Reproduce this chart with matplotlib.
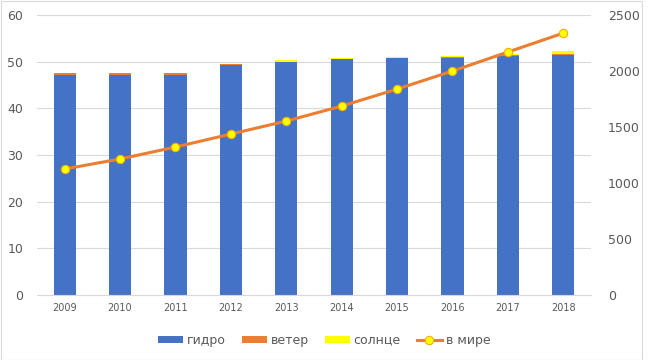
import numpy as np
import matplotlib.pyplot as plt
from matplotlib.patches import Rectangle

years = ['2009', '2010', '2011', '2012', '2013', '2014', '2015', '2016', '2017', '2018']
hydro = [47.2, 47.2, 47.2, 49.3, 49.9, 50.5, 50.7, 50.9, 51.3, 51.5]
wind = [0.3, 0.3, 0.3, 0.2, 0.1, 0.1, 0.1, 0.1, 0.1, 0.1]
solar = [0.0, 0.0, 0.0, 0.0, 0.3, 0.3, 0.3, 0.3, 0.3, 0.7]
world = [1125, 1214, 1321, 1437, 1553, 1687, 1839, 2000, 2170, 2339]

fig = plt.figure(figsize=(6.48, 3.6), dpi=100)
ax = fig.add_axes([0.057, 0.181, 0.855, 0.777])
x = np.arange(len(years))
w = 0.4
hydro_a = np.array(hydro)
wind_a = np.array(wind)
ax.bar(x, hydro, w, color='#4472C4', label='гидро', zorder=2)
ax.bar(x, wind, w, bottom=hydro_a, color='#ED7D31', label='ветер', zorder=2)
ax.bar(x, solar, w, bottom=hydro_a + wind_a, color='#FFFF00', label='солнце', zorder=2)

ax.set_xlim(-0.5, len(years) - 0.5)
ax.set_ylim(0, 60)
ax.set_yticks(range(0, 61, 10))
ax.set_xticks(x)
ax.set_xticklabels(years)
ax.grid(axis='y', color='#D9D9D9', linewidth=0.8, zorder=0)
for s in ['top', 'right', 'left']:
    ax.spines[s].set_visible(False)
ax.spines['bottom'].set_color('#D9D9D9')
ax.tick_params(axis='both', length=0, colors='#595959')
ax.tick_params(axis='y', labelsize=9, pad=10)
ax.tick_params(axis='x', labelsize=7, pad=6)

ax2 = ax.twinx()
ax2.plot(x, world, color='#ED7D31', linewidth=2.2, marker='o', markersize=6,
         markerfacecolor='#FFFF00', markeredgecolor='#F0B000', markeredgewidth=0.8,
         label='в мире', zorder=3)
ax2.set_ylim(0, 2500)
ax2.set_yticks(range(0, 2501, 500))
for s in ['top', 'right', 'left', 'bottom']:
    ax2.spines[s].set_visible(False)
ax2.tick_params(axis='y', length=0, colors='#595959', labelsize=9, pad=12)

h1, l1 = ax.get_legend_handles_labels()
h2, l2 = ax2.get_legend_handles_labels()
fig.legend(h1 + h2, l1 + l2, loc='center', bbox_to_anchor=(0.5, 0.055), ncol=4,
           frameon=False, fontsize=9, labelcolor='#595959', handlelength=2.0,
           handleheight=0.5, columnspacing=1.3, handletextpad=0.3)

fig.patches.append(Rectangle((0.001, 0.001), 0.99, 0.997, transform=fig.transFigure,
                             fill=False, edgecolor='#D9D9D9', linewidth=0.8))

fig.savefig('out.png', dpi=100)
